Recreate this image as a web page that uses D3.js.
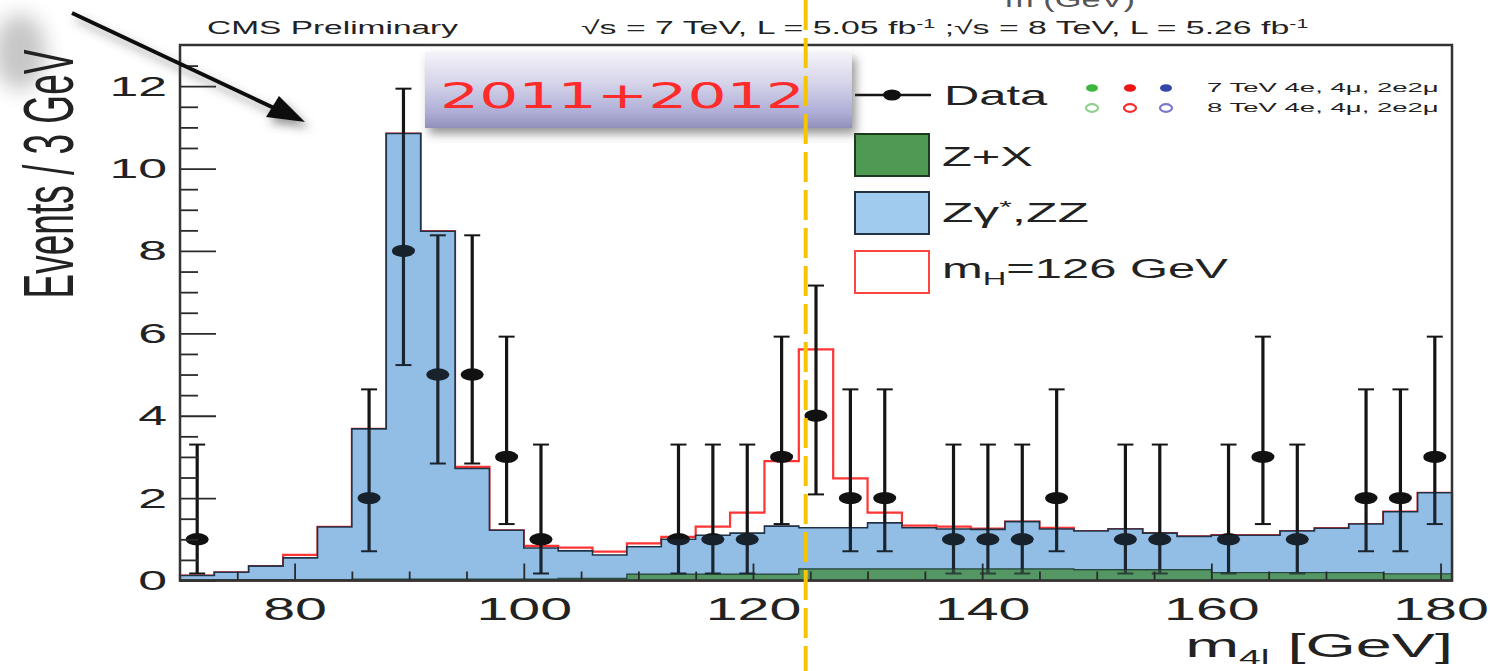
<!DOCTYPE html>
<html>
<head>
<meta charset="utf-8">
<script src="https://cdn.jsdelivr.net/npm/d3@7"></script>
<style>
  body { margin: 0; background: #fff; }
  svg { display: block; }
  text { font-family: "Liberation Sans", Arial, sans-serif; fill: #222; }
</style>
</head>
<body>
<svg id="chart" width="1490" height="671"></svg>
<script>
// 3 GeV bins, low edges in GeV
const binLow = [70, 73, 76, 79, 82, 85, 88, 91, 94, 97, 100, 103, 106, 109, 112, 115, 118, 121, 124,
  127, 130, 133, 136, 139, 142, 145, 148, 151, 154, 157, 160, 163, 166, 169, 172, 175, 178];
const binWidth = 3;

const zxYield = [0.02, 0.02, 0.02, 0.02, 0.02, 0.03, 0.03, 0.03, 0.03, 0.03, 0.03, 0.05, 0.05, 0.15, 0.15, 0.15, 0.15, 0.15, 0.28,
  0.28, 0.28, 0.28, 0.28, 0.28, 0.28, 0.28, 0.26, 0.26, 0.26, 0.26, 0.19, 0.19, 0.19, 0.19, 0.19, 0.16, 0.16];
const zzYield = [0.10, 0.18, 0.33, 0.53, 1.28, 3.65, 10.82, 8.45, 2.69, 1.19, 0.76, 0.67, 0.57, 0.67, 0.85, 0.95, 1.00, 1.17, 1.00,
  1.00, 1.12, 1.00, 0.97, 0.96, 1.15, 0.97, 0.94, 0.99, 0.89, 0.81, 0.91, 0.91, 1.01, 1.08, 1.18, 1.51, 1.97];
const higgsYield = [0, 0, 0, 0.07, 0, 0, 0, 0, 0.04, 0, 0.05, 0.08, 0.08, 0.08, 0.06, 0.21, 0.50, 1.58, 4.33,
  1.20, 0.25, 0.05, 0.06, 0.02, 0, 0.03, 0, 0, 0, 0, 0, 0, 0, 0, 0, 0, 0];
const dataCounts = [1, 0, 0, 0, 0, 2, 8, 5, 5, 3, 1, 0, 0, 0, 1, 1, 1, 3, 4,
  2, 2, 0, 1, 1, 1, 2, 0, 1, 1, 0, 1, 3, 1, 0, 2, 2, 3];
// 68% Poisson (Garwood) intervals by observed count
const poissonBand = { 1: [0.17, 3.30], 2: [0.71, 4.64], 3: [1.37, 5.92], 4: [2.09, 7.16], 5: [2.84, 8.38], 8: [5.23, 11.94] };

const xTicks = [80, 100, 120, 140, 160, 180];
const xMinorTicks = [75, 85, 90, 95, 105, 110, 115, 125, 130, 135, 145, 150, 155, 165, 170, 175];
const yTicks = [0, 2, 4, 6, 8, 10, 12];
const higgsMass = 124.6;

const svg = d3.select("#chart");
const defs = svg.append("defs");

const x = d3.scaleLinear().domain([70, 181]).range([180, 1452]);
const y = d3.scaleLinear().domain([0, 13]).range([580.5, 45]);

// filters / gradients
const shadow = defs.append("filter").attr("id", "shadow")
  .attr("x", "-20%").attr("y", "-20%").attr("width", "150%").attr("height", "170%");
shadow.append("feDropShadow").attr("dx", 4).attr("dy", 6).attr("stdDeviation", 5)
  .attr("flood-color", "#444").attr("flood-opacity", 0.55);
const blur = defs.append("filter").attr("id", "blur").attr("x", "-50%").attr("y", "-50%")
  .attr("width", "200%").attr("height", "200%");
blur.append("feGaussianBlur").attr("stdDeviation", 10);
const grad = defs.append("linearGradient").attr("id", "boxGrad")
  .attr("x1", 0).attr("y1", 0).attr("x2", 0).attr("y2", 1);
[["0%", "#f5f3f9"], ["40%", "#d6d5ea"], ["80%", "#adadd6"], ["100%", "#9090bc"]]
  .forEach(([o, c]) => grad.append("stop").attr("offset", o).attr("stop-color", c));

// gray smudge at top left
svg.append("ellipse").attr("cx", 20).attr("cy", 52).attr("rx", 26).attr("ry", 38)
  .attr("fill", "#9a9a9a").attr("opacity", 0.55).attr("filter", "url(#blur)");

// stacked histograms
const rows = binLow.map((m, i) => ({ m, zx: zxYield[i], zz: zzYield[i], sig: higgsYield[i] }));
const last = rows[rows.length - 1];
rows.push({ ...last, m: last.m + binWidth });
const stack = d3.stack().keys(["zx", "zz", "sig"])(rows);

const stepArea = layer => d3.area()
  .x(d => x(d.data.m))
  .y0(y(0))
  .y1(d => y(d[1]))
  .curve(d3.curveStepAfter)(layer);

const plot = svg.append("g");
plot.append("path").attr("d", stepArea(stack[2]))
  .attr("fill", "#fff").attr("stroke", "#ff3434").attr("stroke-width", 2.2);
plot.append("path").attr("d", stepArea(stack[1]))
  .attr("fill", "#a3cbee").attr("stroke", "#1d2c3c").attr("stroke-width", 1.6);
plot.append("path").attr("d", stepArea(stack[0]))
  .attr("fill", "#579a57").attr("stroke", "#1f3a22").attr("stroke-width", 1.4);

// data points
const points = binLow.map((m, i) => ({ m: m + binWidth / 2, n: dataCounts[i] })).filter(d => d.n > 0);
const dataG = svg.append("g");
const pt = dataG.selectAll("g").data(points).enter().append("g");
pt.append("line")
  .attr("x1", d => x(d.m)).attr("x2", d => x(d.m))
  .attr("y1", d => y(poissonBand[d.n][0])).attr("y2", d => y(poissonBand[d.n][1]))
  .attr("stroke", "#151515").attr("stroke-width", 3.2);
[0, 1].forEach(j => {
  pt.append("line")
    .attr("x1", d => x(d.m) - 8).attr("x2", d => x(d.m) + 8)
    .attr("y1", d => y(poissonBand[d.n][j])).attr("y2", d => y(poissonBand[d.n][j]))
    .attr("stroke", "#151515").attr("stroke-width", 2);
});
pt.append("ellipse").attr("cx", d => x(d.m)).attr("cy", d => y(d.n))
  .attr("rx", 11.5).attr("ry", 6.2).attr("fill", "#111");

// slight tint of the filled histograms over the data
svg.append("path").attr("d", stepArea(stack[1]))
  .attr("fill", "#3d7fc0").attr("opacity", 0.16);
svg.append("path").attr("d", stepArea(stack[0]))
  .attr("fill", "#579a57").attr("opacity", 0.25);

// axes, ROOT style ticks inside the frame
const sx = 1.85;
const xAxis = svg.append("g").attr("transform", `translate(0,${y(0)})`)
  .call(d3.axisBottom(x).tickValues(xTicks).tickSizeInner(-17).tickSizeOuter(0).tickPadding(17));
xAxis.selectAll("text").style("font-size", "31px").attr("fill", "#222")
  .attr("transform", `scale(${sx},1)`);
svg.append("g").attr("transform", `translate(0,${y(0)})`)
  .call(d3.axisBottom(x).tickValues(xMinorTicks).tickSizeInner(-9).tickSizeOuter(0).tickFormat(""));

const yAxis = svg.append("g").attr("transform", `translate(${x(70)},0)`)
  .call(d3.axisLeft(y).tickValues(yTicks).tickSizeInner(-36).tickSizeOuter(0).tickPadding(13));
yAxis.selectAll("text").style("font-size", "28px").attr("fill", "#222")
  .attr("x", -13 / sx).attr("transform", `scale(${sx},1)`);
svg.append("g").attr("transform", `translate(${x(70)},0)`)
  .call(d3.axisLeft(y).tickValues(d3.range(0.5, 13, 0.5).filter(v => v % 2 !== 0)).tickSizeInner(-18).tickSizeOuter(0).tickFormat(""));

svg.selectAll(".domain").remove();
svg.selectAll(".tick line").attr("stroke", "#2a2a2a").attr("stroke-width", 1.8);

svg.append("rect").attr("x", x(70)).attr("y", y(13))
  .attr("width", x(181) - x(70)).attr("height", y(0) - y(13))
  .attr("fill", "none").attr("stroke", "#333").attr("stroke-width", 2.5);

// text helper: horizontally stretched text fitted to a width
function fitText(x0, y0, width, anchor, build) {
  const g = svg.append("g");
  const t = g.append("text").attr("text-anchor", anchor);
  build(t);
  const w = t.node().getBBox().width;
  g.attr("transform", `translate(${x0},${y0}) scale(${width / w},1)`);
  return t;
}

// axis titles
fitText(1453, 657, 268, "end", t => {
  t.style("font-size", "33px");
  t.append("tspan").text("m");
  t.append("tspan").attr("dy", 7).style("font-size", "20px").text("4l");
  t.append("tspan").attr("dy", -7).text(" [GeV]");
});
svg.append("text").attr("text-anchor", "middle")
  .attr("transform", `translate(73,174) scale(1.9,1) rotate(-90)`)
  .style("font-size", "37px").text("Events / 3 GeV");

// header
fitText(207, 34, 252, "start", t => t.style("font-size", "19px").text("CMS Preliminary"));
fitText(581, 34, 728, "start", t => {
  t.style("font-size", "19px");
  t.append("tspan").text("√s = 7 TeV, L = 5.05 fb");
  t.append("tspan").attr("dy", -6).style("font-size", "12px").text("-1");
  t.append("tspan").attr("dy", 6).text(" ;√s = 8 TeV, L = 5.26 fb");
  t.append("tspan").attr("dy", -6).style("font-size", "12px").text("-1");
});
// title fragment cut by the top edge of the picture
fitText(1005, 7, 130, "start", t => t.style("font-size", "22px").style("fill", "#555").text("m (GeV)"));

// legend
const lg = svg.append("g");
lg.append("line").attr("x1", 855).attr("x2", 931).attr("y1", 95).attr("y2", 95)
  .attr("stroke", "#151515").attr("stroke-width", 2.5);
lg.append("ellipse").attr("cx", 892).attr("cy", 95).attr("rx", 9).attr("ry", 5.5).attr("fill", "#111");
fitText(944, 105, 104, "start", t => t.style("font-size", "28px").text("Data"));

const chanFill = ["#3fb63f", "#ee1515", "#3545a8"];
const chanRing = ["#8fcf8f", "#ee3030", "#7a7ac8"];
const chanX = [1092, 1130, 1166];
chanX.forEach((cx, i) => {
  lg.append("ellipse").attr("cx", cx).attr("cy", 88).attr("rx", 6).attr("ry", 3.8).attr("fill", chanFill[i]);
  lg.append("ellipse").attr("cx", cx).attr("cy", 108).attr("rx", 6).attr("ry", 3.8)
    .attr("fill", "#fff").attr("stroke", chanRing[i]).attr("stroke-width", 2.2);
});
fitText(1207, 92, 232, "start", t => t.style("font-size", "12px").text("7 TeV 4e, 4μ, 2e2μ"));
fitText(1207, 112, 232, "start", t => t.style("font-size", "12px").text("8 TeV 4e, 4μ, 2e2μ"));

const boxes = [
  { y: 134, fill: "#4f9a52", stroke: "#1e3a1e" },
  { y: 192, fill: "#a0cbef", stroke: "#223344" },
  { y: 251, fill: "#fff", stroke: "#ff4444" }
];
boxes.forEach(b => lg.append("rect").attr("x", 855).attr("y", b.y).attr("width", 74).attr("height", 42)
  .attr("fill", b.fill).attr("stroke", b.stroke).attr("stroke-width", 2));
fitText(942, 166, 91, "start", t => t.style("font-size", "27px").text("Z+X"));
fitText(942, 222, 147, "start", t => {
  t.style("font-size", "27px");
  t.append("tspan").text("Zγ");
  t.append("tspan").attr("dy", -9).style("font-size", "17px").text("*");
  t.append("tspan").attr("dy", 9).text(",ZZ");
});
fitText(942, 278, 286, "start", t => {
  t.style("font-size", "27px");
  t.append("tspan").text("m");
  t.append("tspan").attr("dy", 7).style("font-size", "18px").text("H");
  t.append("tspan").attr("dy", -7).text("=126 GeV");
});

// 2011+2012 label box
svg.append("rect").attr("x", 425).attr("y", 52).attr("width", 427).attr("height", 76)
  .attr("fill", "url(#boxGrad)").attr("filter", "url(#shadow)");
fitText(440, 108, 365, "start", t => t.style("font-family", "'DejaVu Sans', sans-serif")
  .style("font-size", "36px").style("fill", "#ff2a2a").text("2011+2012"));

// arrow
const arrow = svg.append("g").attr("filter", "url(#shadow)");
arrow.append("line").attr("x1", 72).attr("y1", 13).attr("x2", 290).attr("y2", 115.5)
  .attr("stroke", "#111").attr("stroke-width", 4);
arrow.append("path").attr("d", "M305,122 L266,117 L279,96 Z").attr("fill", "#111");

// dashed mass line
svg.append("line").attr("x1", x(higgsMass)).attr("x2", x(higgsMass)).attr("y1", 0).attr("y2", 671)
  .attr("stroke", "#f7c400").attr("stroke-width", 4).attr("stroke-dasharray", "30,8");
</script>
</body>
</html>
